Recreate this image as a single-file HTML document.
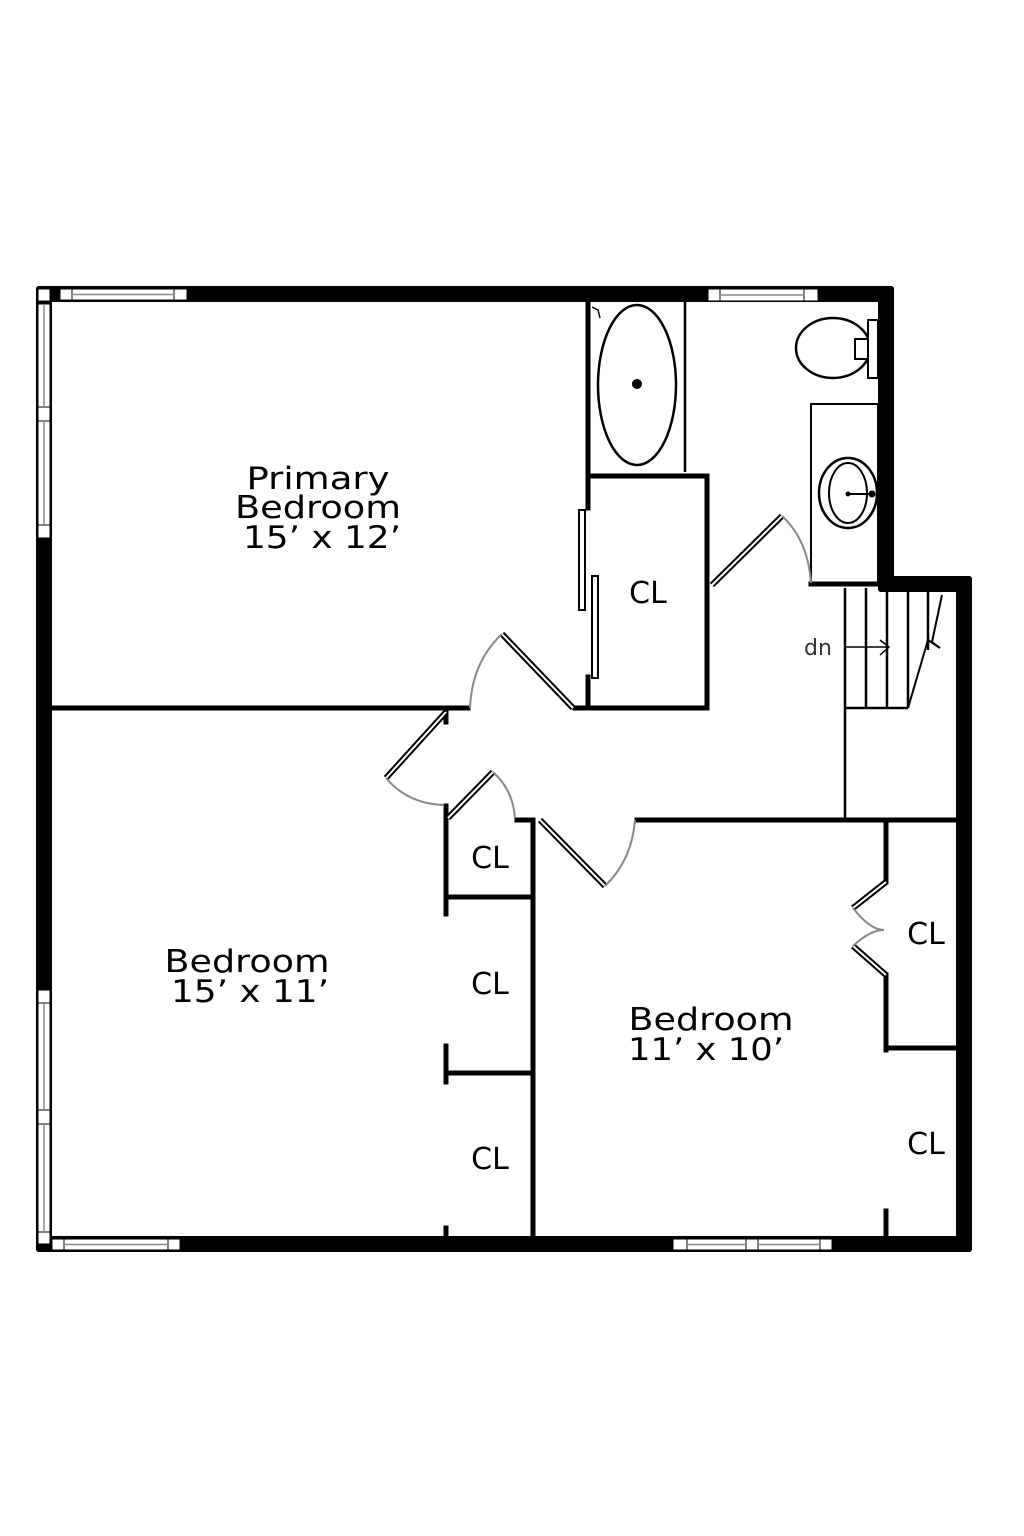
<!DOCTYPE html>
<html><head><meta charset="utf-8"><style>html,body{margin:0;padding:0;background:#fff}svg{display:block}</style></head>
<body>
<svg width="1024" height="1536" viewBox="0 0 1024 1536" xmlns="http://www.w3.org/2000/svg" font-family="'DejaVu Sans', 'Liberation Sans', sans-serif">
<rect width="1024" height="1536" fill="#fff"/>
<!-- outer walls -->
<g fill="#000">
<rect x="36" y="286" width="858" height="16" rx="3"/>
<rect x="36" y="286" width="16" height="966" rx="3"/>
<rect x="878" y="286" width="16" height="306" rx="3"/>
<rect x="878" y="576" width="94" height="16" rx="3"/>
<rect x="956" y="576" width="16" height="676" rx="3"/>
<rect x="36" y="1236" width="936" height="16" rx="3"/>
</g>
<!-- windows -->
<g fill="#fff" stroke="#000" stroke-width="1">
<rect x="38" y="289" width="12" height="12"/>
<rect x="60" y="289" width="12" height="11"/><rect x="72" y="289" width="102" height="11"/><rect x="174" y="289" width="13" height="11"/>
<rect x="708" y="289" width="12" height="12"/><rect x="720" y="289" width="84" height="12"/><rect x="804" y="289" width="14" height="12"/>
<rect x="38" y="304" width="12" height="103"/><rect x="38" y="407" width="12" height="14"/><rect x="38" y="421" width="12" height="104"/><rect x="38" y="525" width="12" height="13"/>
<rect x="38" y="990" width="12" height="13"/><rect x="38" y="1003" width="12" height="107"/><rect x="38" y="1110" width="12" height="14"/><rect x="38" y="1124" width="12" height="108"/><rect x="38" y="1232" width="12" height="12"/>
<rect x="52" y="1239" width="12" height="11"/><rect x="64" y="1239" width="104" height="11"/><rect x="168" y="1239" width="12" height="11"/>
<rect x="673" y="1239" width="14" height="11"/><rect x="687" y="1239" width="59" height="11"/><rect x="746" y="1239" width="12" height="11"/><rect x="758" y="1239" width="62" height="11"/><rect x="820" y="1239" width="12" height="11"/>
</g>
<g stroke="#888" stroke-width="1.5">
<line x1="72" y1="294.5" x2="174" y2="294.5"/><line x1="720" y1="295" x2="804" y2="295"/>
<line x1="44" y1="304" x2="44" y2="407"/><line x1="44" y1="421" x2="44" y2="525"/>
<line x1="44" y1="1003" x2="44" y2="1110"/><line x1="44" y1="1124" x2="44" y2="1232"/>
<line x1="64" y1="1244.5" x2="168" y2="1244.5"/><line x1="687" y1="1244.5" x2="746" y2="1244.5"/><line x1="758" y1="1244.5" x2="820" y2="1244.5"/>
</g>
<!-- interior walls -->
<g stroke="#000" stroke-width="5" fill="none" stroke-linecap="square">
<line x1="52" y1="708" x2="468" y2="708"/>
<line x1="575" y1="708" x2="707" y2="708"/>
<line x1="588" y1="302" x2="588" y2="508"/>
<line x1="588" y1="677" x2="588" y2="708"/>
<line x1="588" y1="476" x2="707" y2="476"/>
<line x1="707" y1="476" x2="707" y2="708"/>
<line x1="446" y1="712" x2="446" y2="722"/>
<line x1="446" y1="806" x2="446" y2="914"/>
<line x1="446" y1="897" x2="533" y2="897"/>
<line x1="517" y1="820" x2="533" y2="820"/>
<line x1="533" y1="820" x2="533" y2="1236"/>
<line x1="446" y1="1046" x2="446" y2="1082"/>
<line x1="446" y1="1073" x2="533" y2="1073"/>
<line x1="446" y1="1228" x2="446" y2="1236"/>
<line x1="637" y1="820" x2="956" y2="820"/>
<line x1="886" y1="820" x2="886" y2="882"/>
<line x1="886" y1="975" x2="886" y2="1050"/>
<line x1="886" y1="1048" x2="956" y2="1048"/>
<line x1="886" y1="1211" x2="886" y2="1236"/>
<line x1="811" y1="584" x2="878" y2="584"/>
</g>
<g stroke="#000" stroke-width="2.5" fill="none">
<line x1="685" y1="302" x2="685" y2="472"/>
<line x1="845" y1="588" x2="845" y2="818"/>
<line x1="845" y1="708" x2="908" y2="708"/>
<line x1="866" y1="588" x2="866" y2="708"/><line x1="887" y1="588" x2="887" y2="708"/><line x1="908" y1="588" x2="908" y2="708"/><line x1="928" y1="588" x2="928" y2="650"/>
<polyline points="942,595 932,642 940,648 928,640 908,708" stroke-width="2"/>
<line x1="845" y1="647" x2="889" y2="647" stroke-width="1.5"/>
<polyline points="880,640 889,647 880,655" stroke-width="1.5"/>
<rect x="811" y="404" width="67" height="180" stroke-width="2"/>
<ellipse cx="848" cy="493" rx="29" ry="35" stroke-width="2.5"/>
<ellipse cx="848" cy="493" rx="19" ry="30" stroke-width="2"/>
<line x1="848" y1="494" x2="872" y2="494" stroke-width="2"/>
<ellipse cx="833" cy="348" rx="37" ry="30" stroke-width="2.5"/>
<rect x="868" y="320" width="10" height="58" stroke-width="2" fill="#fff"/>
<rect x="855" y="339" width="13" height="20" stroke-width="2" fill="#fff"/>
<ellipse cx="637" cy="385" rx="39" ry="80" stroke-width="2.5"/>
<polyline points="592,307 598,310 600,318" stroke-width="1.5"/>
</g>
<circle cx="637" cy="384" r="5" fill="#000"/>
<circle cx="848" cy="494" r="2.5" fill="#000"/>
<circle cx="872" cy="494" r="3.5" fill="#000"/>
<!-- sliding doors -->
<g fill="#fff" stroke="#000" stroke-width="2">
<rect x="579" y="510" width="6" height="100"/>
<rect x="592" y="576" width="6" height="102"/>
</g>
<!-- doors -->
<g stroke="#000" stroke-width="6" stroke-linecap="butt">
<line x1="712" y1="585" x2="782" y2="516"/>
<line x1="573" y1="708" x2="502" y2="634"/>
<line x1="446" y1="712" x2="386" y2="778"/>
<line x1="448" y1="818" x2="493" y2="772"/>
<line x1="540" y1="820" x2="605" y2="886"/>
<line x1="886" y1="882" x2="853" y2="908"/>
<line x1="886" y1="975" x2="853" y2="946"/>
</g>
<g stroke="#fff" stroke-width="2">
<line x1="712" y1="585" x2="782" y2="516"/>
<line x1="573" y1="708" x2="502" y2="634"/>
<line x1="446" y1="712" x2="386" y2="778"/>
<line x1="448" y1="818" x2="493" y2="772"/>
<line x1="540" y1="820" x2="605" y2="886"/>
<line x1="886" y1="882" x2="853" y2="908"/>
<line x1="886" y1="975" x2="853" y2="946"/>
</g>
<g stroke="#888" stroke-width="2" fill="none">
<path d="M782,516 Q808,540 811,583"/>
<path d="M502,634 Q472,662 470,708"/>
<path d="M386,778 Q408,804 444,805"/>
<path d="M493,772 Q513,790 515,818"/>
<path d="M605,886 Q632,860 635,820"/>
<path d="M853,908 Q870,930 884,930 Q870,930 853,946"/>
</g>
<!-- labels -->
<g fill="#000" font-size="31" text-anchor="middle">
<text x="318" y="489" textLength="143" lengthAdjust="spacingAndGlyphs">Primary</text>
<text x="318" y="518" textLength="166" lengthAdjust="spacingAndGlyphs">Bedroom</text>
<text x="322" y="548" textLength="158" lengthAdjust="spacingAndGlyphs">15’ x 12’</text>
<text x="247" y="972" textLength="165" lengthAdjust="spacingAndGlyphs">Bedroom</text>
<text x="250" y="1002" textLength="158" lengthAdjust="spacingAndGlyphs">15’ x 11’</text>
<text x="711" y="1030" textLength="165" lengthAdjust="spacingAndGlyphs">Bedroom</text>
<text x="706" y="1060" textLength="156" lengthAdjust="spacingAndGlyphs">11’ x 10’</text>
</g>
<g fill="#000" font-size="30" text-anchor="middle">
<text x="648" y="603">CL</text>
<text x="490" y="868">CL</text>
<text x="490" y="994">CL</text>
<text x="490" y="1169">CL</text>
<text x="926" y="944">CL</text>
<text x="926" y="1154">CL</text>
</g>
<text x="818" y="655" font-size="22" fill="#333" text-anchor="middle">dn</text>
</svg>
</body></html>
